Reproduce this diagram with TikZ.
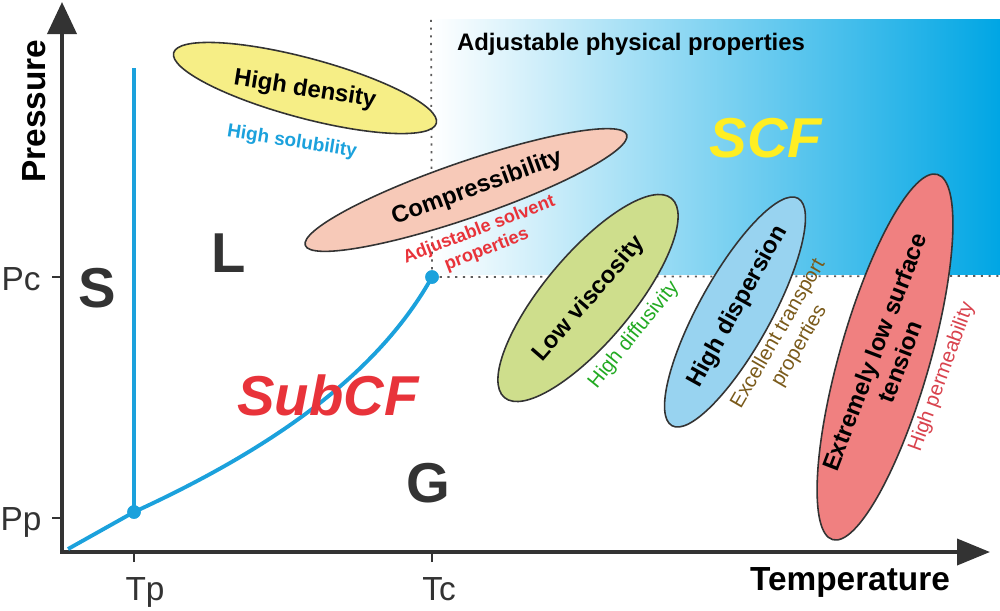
\documentclass[tikz,border=0pt]{standalone}
\usepackage{fontspec}
\setmainfont{Liberation Sans}
\usetikzlibrary{shapes.geometric,arrows.meta}
\definecolor{axisgray}{RGB}{51,51,51}
\definecolor{curveblue}{RGB}{27,161,220}
\definecolor{scfblue}{RGB}{0,166,228}
\definecolor{ellyellow}{RGB}{246,238,134}
\definecolor{ellpink}{RGB}{247,201,184}
\definecolor{ellgreen}{RGB}{206,222,140}
\definecolor{ellblue}{RGB}{152,211,240}
\definecolor{ellred}{RGB}{240,128,128}
\definecolor{subred}{RGB}{232,51,58}
\definecolor{permred}{RGB}{217,67,78}
\definecolor{diffgreen}{RGB}{34,170,34}
\definecolor{transbrown}{RGB}{122,90,26}
\definecolor{scfyellow}{RGB}{255,238,34}
\begin{document}
\begin{tikzpicture}[x=0.02cm,y=-0.02cm,
  axis/.style={draw=axisgray, line width=2.2pt},
  tick/.style={draw=axisgray, line width=1pt},
  curve/.style={draw=curveblue, line width=2.2pt},
  dot/.style={circle, fill=curveblue, minimum size=0.27cm, inner sep=0pt},
  dotline/.style={draw=axisgray!80, line width=1pt, dash pattern=on 1.2pt off 3.2pt},
  ell/.style={ellipse, draw=black!80, line width=0.9pt, inner sep=0pt},
  bigt/.style={font=\fontsize{13.6}{15.5}\selectfont\bfseries, align=center, inner sep=0pt},
  smallt/.style={font=\fontsize{11.6}{13.8}\selectfont, align=center, inner sep=0pt},
  solvt/.style={font=\fontsize{10.3}{12}\selectfont\bfseries, align=center, inner sep=0pt},
  axlabel/.style={font=\fontsize{19}{21}\selectfont\bfseries, inner sep=0pt, text=black},
  ticklabel/.style={font=\fontsize{19}{21}\selectfont, inner sep=0pt, text=axisgray},
  phase/.style={font=\fontsize{32}{36}\selectfont\bfseries, inner sep=0pt, text=axisgray},
  bigit/.style={font=\fontsize{32}{36}\selectfont\bfseries\itshape, inner sep=0pt}
]
\useasboundingbox (0,0) rectangle (1000,610);

% supercritical region
\shade[left color=white, right color=scfblue] (432,19) rectangle (1000,274);

% coordinates
\coordinate (o) at (62,552);
\coordinate (ytip) at (62,2);
\coordinate (xtip) at (990,552);
\coordinate (start) at (68,549);
\coordinate (mtop) at (134,68);
\coordinate (dtop) at (431,19);
\coordinate (dright) at (1000,276);
\node[dot] (tp) at (134,512) {};
\node[dot] (cp) at (432,277) {};

% dotted lines
\draw[dotline] (cp.center) -- (dtop);
\draw[dotline] (cp.center) -- (dright);

% axes
\draw[axis, {Triangle[length=0.64cm,width=0.58cm]}-{Triangle[length=0.66cm,width=0.52cm]}] (ytip) -- (o) -- (xtip);
\coordinate (pct) at (52,277);
\coordinate (pco) at (62,277);
\coordinate (ppt) at (52,518);
\coordinate (ppo) at (62,518);
\coordinate (tpt) at (134,562);
\coordinate (tpo) at (134,552);
\coordinate (tct) at (432,562);
\coordinate (tco) at (432,552);
\draw[tick] (pct) -- (pco);
\draw[tick] (ppt) -- (ppo);
\draw[tick] (tpt) -- (tpo);
\draw[tick] (tct) -- (tco);

\node[axlabel, rotate=90, anchor=base] (plab) at (45,111) {Pressure};
\node[axlabel, anchor=base] (tlab) at (850,590) {Temperature};
\node[ticklabel, anchor=base] (pc) at (21,290) {Pc};
\node[ticklabel, anchor=base] (pp) at (21,530) {Pp};
\node[ticklabel, anchor=base] (tpl) at (145,600) {Tp};
\node[ticklabel, anchor=base] (tcl) at (439,600) {Tc};

% phase curves
\draw[curve] (start) -- (tp.center) .. controls (280,445) and (380,370) .. (cp.center);
\draw[curve] (tp.center) -- (mtop);
\node[dot] at (tp) {};
\node[dot] at (cp) {};

% phase labels
\node[phase, anchor=base] (S) at (97,307) {S};
\node[phase, anchor=base] (L) at (229,272) {L};
\node[phase, anchor=base] (G) at (428,502) {G};
\node[bigit, text=subred, anchor=base] (sub) at (328,415) {SubCF};
\node[bigit, text=scfyellow, anchor=base] (scf) at (766,157) {SCF};
\node[bigt, anchor=base] (adj) at (631,50) {Adjustable physical properties};

% ellipses
\node[ell, fill=ellyellow, minimum width=5.44cm, minimum height=1.2cm, rotate=-15] (e1) at (305,88) {};
\node[ell, fill=ellpink, minimum width=6.8cm, minimum height=1.12cm, rotate=19] (e2) at (466,190) {};
\node[ell, fill=ellgreen, minimum width=5.2cm, minimum height=1.76cm, rotate=50] (e3) at (588,298) {};
\node[ell, fill=ellblue, minimum width=5.2cm, minimum height=1.44cm, rotate=61] (e4) at (735,312) {};
\node[ell, fill=ellred, minimum width=7.6cm, minimum height=1.8cm, rotate=74] (e5) at (885,357) {};

% ellipse texts
\node[bigt, rotate=-9] (t1) at (305,90) {High density};
\node[bigt, rotate=20] (t2) at (477,188) {Compressibility};
\node[bigt, rotate=49] (t3) at (589,299) {Low viscosity};
\node[bigt, rotate=61] (t4) at (738,307) {High dispersion};
\node[bigt, rotate=69] (t5) at (887,357) {Extremely low surface\\tension};

% property texts
\node[font=\fontsize{10.8}{12.6}\selectfont\bfseries, inner sep=0pt, text=curveblue, rotate=-9] (s1) at (292,142) {High solubility};
\node[solvt, text=subred, rotate=21] (s2) at (483,240) {Adjustable solvent\\properties};
\node[smallt, text=diffgreen, rotate=51] (s3) at (634,335) {High diffusivity};
\node[smallt, text=transbrown, rotate=60] (s4) at (789,340) {Excellent transport\\properties};
\node[smallt, text=permred, rotate=70] (s5) at (942,377) {High permeability};
\end{tikzpicture}
\end{document}
